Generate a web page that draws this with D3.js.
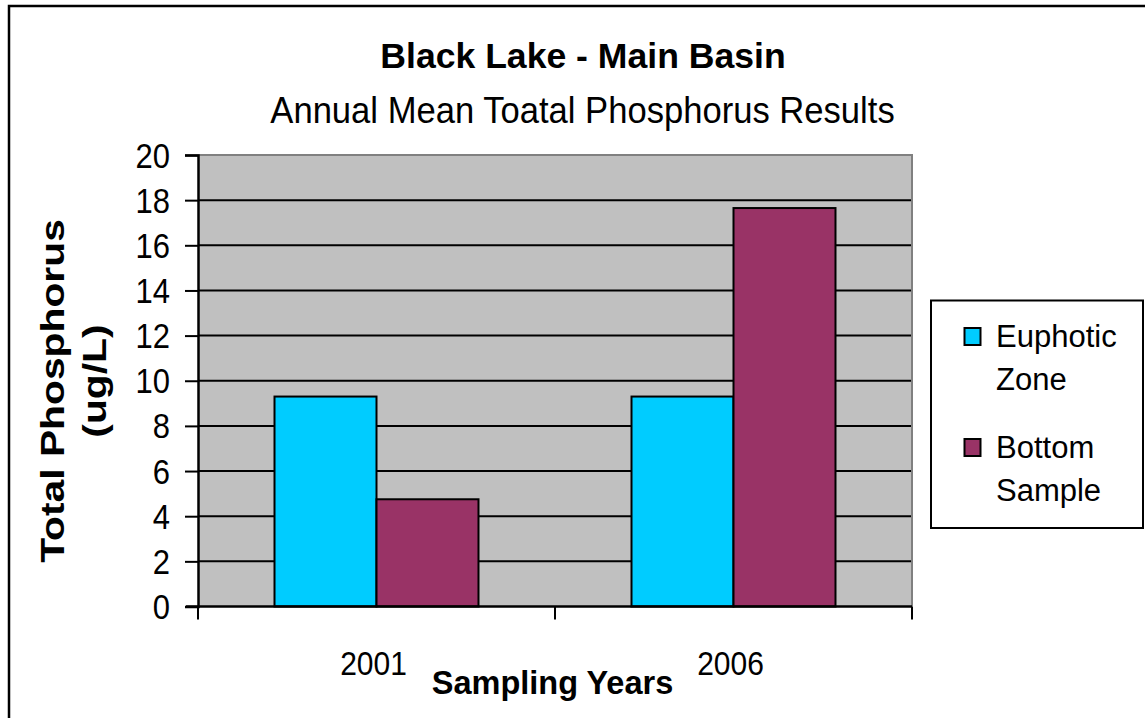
<!DOCTYPE html>
<html>
<head>
<meta charset="utf-8">
<script src="https://cdn.jsdelivr.net/npm/d3@7"></script>
<style>
  html, body { margin: 0; padding: 0; background: #fff; }
  svg { display: block; font-family: "Liberation Sans", Arial, sans-serif; }
</style>
</head>
<body>
<svg id="chart" width="1145" height="718"></svg>
<script>
const years = ["2001", "2006"];
const seriesNames = ["Euphotic Zone", "Bottom Sample"];
const euphoticZone = [9.3, 9.3];
const bottomSample = [4.75, 17.65];
const yTicks = [0, 2, 4, 6, 8, 10, 12, 14, 16, 18, 20];
const legendLines = [["Euphotic", "Zone"], ["Bottom", "Sample"]];
const colors = ["#00CCFF", "#993366"];

const svg = d3.select("#chart");

// outer chart border
svg.append("rect").attr("x", 9).attr("y", 6).attr("width", 1160).attr("height", 730)
  .attr("fill", "#fff").attr("stroke", "#000").attr("stroke-width", 2.5);

const plot = { left: 198, right: 912, top: 155, bottom: 606.5 };

const y = d3.scaleLinear().domain([0, 20]).range([plot.bottom, plot.top]);
const x0 = d3.scaleBand().domain(years).range([plot.left, plot.right])
  .paddingInner(0.4286).paddingOuter(0.2143);
const x1 = d3.scaleBand().domain(seriesNames).range([0, x0.bandwidth()]);

// plot background
svg.append("rect").attr("x", plot.left).attr("y", plot.top)
  .attr("width", plot.right - plot.left).attr("height", plot.bottom - plot.top)
  .attr("fill", "#C0C0C0");

// gridlines
svg.append("g").selectAll("line").data(yTicks.filter(d => d > 0 && d < 20)).join("line")
  .attr("x1", plot.left).attr("x2", plot.right)
  .attr("y1", d => y(d)).attr("y2", d => y(d))
  .attr("stroke", "#000").attr("stroke-width", 2);

// plot top & right border (gray)
svg.append("path")
  .attr("d", `M${plot.left},${plot.top}H${plot.right}V${plot.bottom}`)
  .attr("fill", "none").attr("stroke", "#808080").attr("stroke-width", 2);

// bars
const data = years.map((yr, i) => ({ year: yr, values: [euphoticZone[i], bottomSample[i]] }));
const groups = svg.append("g").selectAll("g").data(data).join("g")
  .attr("transform", d => `translate(${x0(d.year)},0)`);
groups.selectAll("rect").data(d => d.values.map((v, j) => ({ name: seriesNames[j], v, j }))).join("rect")
  .attr("x", d => x1(d.name)).attr("width", x1.bandwidth())
  .attr("y", d => y(d.v)).attr("height", d => y(0) - y(d.v))
  .attr("fill", d => colors[d.j]).attr("stroke", "#000").attr("stroke-width", 2);

// y axis
const yAxis = d3.axisLeft(y).tickValues(yTicks).tickSize(13).tickFormat("");
const yg = svg.append("g").attr("transform", `translate(${plot.left},0)`).call(yAxis);
yg.select(".domain").attr("stroke", "#000").attr("stroke-width", 2.5);
yg.selectAll(".tick line").attr("stroke", "#000").attr("stroke-width", 2);

// y tick labels (stretched text)
svg.append("g").selectAll("g").data(yTicks).join("g")
  .attr("transform", d => `translate(170,${y(d) + 12.5}) scale(1,1.12)`)
  .append("text").attr("text-anchor", "end").attr("font-size", 31).attr("fill", "#000")
  .text(d => d);

// x axis
const xTickPos = d3.scaleLinear().domain([0, years.length]).range([plot.left, plot.right]);
const xg = svg.append("g");
xg.append("line").attr("x1", plot.left - 12).attr("x2", plot.right)
  .attr("y1", plot.bottom).attr("y2", plot.bottom)
  .attr("stroke", "#000").attr("stroke-width", 2.5);
xg.selectAll("line.t").data(d3.range(years.length + 1)).join("line").attr("class", "t")
  .attr("x1", d => xTickPos(d)).attr("x2", d => xTickPos(d))
  .attr("y1", plot.bottom).attr("y2", plot.bottom + 13)
  .attr("stroke", "#000").attr("stroke-width", 2);

svg.append("g").selectAll("g").data(years).join("g")
  .attr("transform", d => `translate(${x0(d) + x0.bandwidth() / 2 - 3},675) scale(1,1.08)`)
  .append("text").attr("text-anchor", "middle").attr("font-size", 30).attr("fill", "#000")
  .text(d => d);

// titles
svg.append("text").attr("x", 583).attr("y", 68).attr("text-anchor", "middle")
  .attr("font-size", 35.6).attr("font-weight", "bold").text("Black Lake - Main Basin");
svg.append("g").attr("transform", "translate(582.5,123) scale(1,1.05)")
  .append("text").attr("text-anchor", "middle").attr("font-size", 34.6)
  .text("Annual Mean Toatal Phosphorus Results");

// x axis title
svg.append("text").attr("x", 552.5).attr("y", 694).attr("text-anchor", "middle")
  .attr("font-size", 32.5).attr("font-weight", "bold").text("Sampling Years");

// y axis title (two lines, rotated)
const yTitle = ["Total Phosphorus", "(ug/L)"];
const yTitleX = [64, 106];
svg.append("g").selectAll("g").data(yTitle).join("g")
  .attr("transform", (d, i) => `translate(${yTitleX[i]},${i === 0 ? 391 : 381}) rotate(-90) scale(1.2,1)`)
  .append("text").attr("text-anchor", "middle").attr("font-size", 34).attr("font-weight", "bold")
  .text(d => d);

// legend
const lg = svg.append("g");
lg.append("rect").attr("x", 931).attr("y", 300.5).attr("width", 212).attr("height", 227.5)
  .attr("fill", "#fff").attr("stroke", "#000").attr("stroke-width", 2);
const legendY = [328, 439];
seriesNames.forEach((name, i) => {
  lg.append("rect").attr("x", 964.5).attr("y", legendY[i]).attr("width", 16).attr("height", 17)
    .attr("fill", colors[i]).attr("stroke", "#000").attr("stroke-width", 2);
  legendLines[i].forEach((ln, k) => {
    lg.append("text").attr("x", 996).attr("y", legendY[i] + 18.5 + k * 43.5)
      .attr("font-size", 31).attr("fill", "#000").text(ln);
  });
});
</script>
</body>
</html>
